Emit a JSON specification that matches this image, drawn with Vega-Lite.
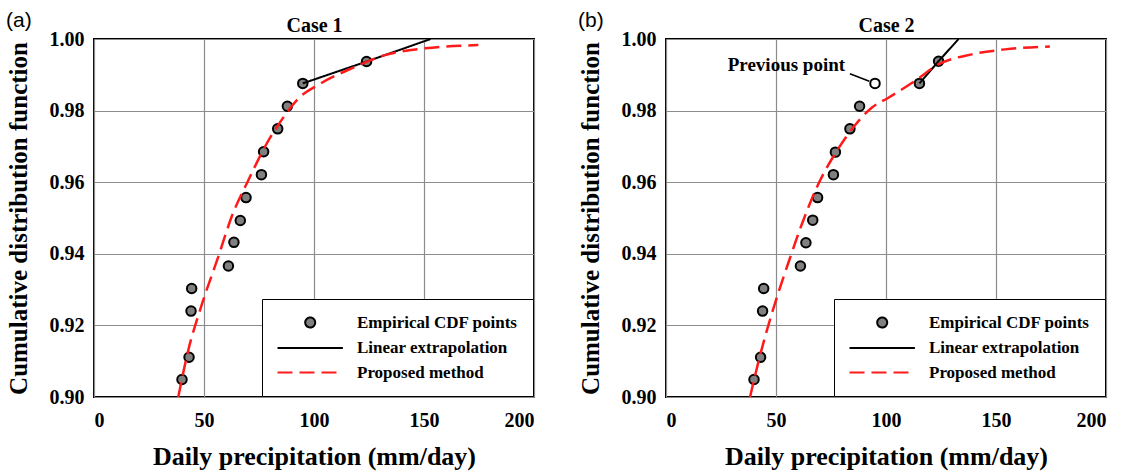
{
  "$schema": "https://vega.github.io/schema/vega-lite/v6.json",
  "background": "white",
  "padding": {"left": 5, "top": 9, "right": 5, "bottom": 5},
  "bounds": "flush",
  "spacing": 132,
  "datasets": {
    "points": [
      {"case": 1, "series": "Empirical CDF points", "x": 40.0, "y": 0.9049},
      {"case": 1, "series": "Empirical CDF points", "x": 43.2, "y": 0.9111},
      {"case": 1, "series": "Empirical CDF points", "x": 44.1, "y": 0.9240},
      {"case": 1, "series": "Empirical CDF points", "x": 44.4, "y": 0.9303},
      {"case": 1, "series": "Empirical CDF points", "x": 61.1, "y": 0.9366},
      {"case": 1, "series": "Empirical CDF points", "x": 63.6, "y": 0.9432},
      {"case": 1, "series": "Empirical CDF points", "x": 66.5, "y": 0.9493},
      {"case": 1, "series": "Empirical CDF points", "x": 69.1, "y": 0.9557},
      {"case": 1, "series": "Empirical CDF points", "x": 76.1, "y": 0.9621},
      {"case": 1, "series": "Empirical CDF points", "x": 77.1, "y": 0.9685},
      {"case": 1, "series": "Empirical CDF points", "x": 83.5, "y": 0.9749},
      {"case": 1, "series": "Empirical CDF points", "x": 87.9, "y": 0.9812},
      {"case": 1, "series": "Empirical CDF points", "x": 94.9, "y": 0.9876},
      {"case": 1, "series": "Empirical CDF points", "x": 123.9, "y": 0.9937},
      {"case": 2, "series": "Empirical CDF points", "x": 40.0, "y": 0.9049},
      {"case": 2, "series": "Empirical CDF points", "x": 43.0, "y": 0.9111},
      {"case": 2, "series": "Empirical CDF points", "x": 43.9, "y": 0.9240},
      {"case": 2, "series": "Empirical CDF points", "x": 44.4, "y": 0.9303},
      {"case": 2, "series": "Empirical CDF points", "x": 61.1, "y": 0.9366},
      {"case": 2, "series": "Empirical CDF points", "x": 63.6, "y": 0.9431},
      {"case": 2, "series": "Empirical CDF points", "x": 66.7, "y": 0.9494},
      {"case": 2, "series": "Empirical CDF points", "x": 68.9, "y": 0.9557},
      {"case": 2, "series": "Empirical CDF points", "x": 76.1, "y": 0.9621},
      {"case": 2, "series": "Empirical CDF points", "x": 77.0, "y": 0.9684},
      {"case": 2, "series": "Empirical CDF points", "x": 83.6, "y": 0.9749},
      {"case": 2, "series": "Empirical CDF points", "x": 88.0, "y": 0.9812},
      {"case": 2, "series": "Empirical CDF points", "x": 115.2, "y": 0.9876},
      {"case": 2, "series": "Empirical CDF points", "x": 123.9, "y": 0.9938}
    ],
    "previous": [
      {"case": 2, "label": "Previous point", "x": 95.0, "y": 0.9876, "tx": 81.4, "ty": 0.9927, "lx1": 83.6, "ly1": 0.9903, "lx2": 92.4, "ly2": 0.9882}
    ],
    "linear": [
      {"case": 1, "series": "Linear extrapolation", "x": 94.9, "y": 0.9876},
      {"case": 1, "series": "Linear extrapolation", "x": 123.9, "y": 0.9937},
      {"case": 1, "series": "Linear extrapolation", "x": 153.0, "y": 1.0},
      {"case": 2, "series": "Linear extrapolation", "x": 115.2, "y": 0.9876},
      {"case": 2, "series": "Linear extrapolation", "x": 123.9, "y": 0.9938},
      {"case": 2, "series": "Linear extrapolation", "x": 133.0, "y": 1.0}
    ],
    "proposed": [
      {"case": 1, "series": "Proposed method", "x": 38.3, "y": 0.9000},
      {"case": 1, "series": "Proposed method", "x": 42.9, "y": 0.9132},
      {"case": 1, "series": "Proposed method", "x": 48.2, "y": 0.9243},
      {"case": 1, "series": "Proposed method", "x": 56.5, "y": 0.9392},
      {"case": 1, "series": "Proposed method", "x": 62.6, "y": 0.9504},
      {"case": 1, "series": "Proposed method", "x": 70.2, "y": 0.9606},
      {"case": 1, "series": "Proposed method", "x": 77.7, "y": 0.9699},
      {"case": 1, "series": "Proposed method", "x": 85.3, "y": 0.9774},
      {"case": 1, "series": "Proposed method", "x": 92.9, "y": 0.9834},
      {"case": 1, "series": "Proposed method", "x": 102.0, "y": 0.9872},
      {"case": 1, "series": "Proposed method", "x": 117.1, "y": 0.9918},
      {"case": 1, "series": "Proposed method", "x": 132.3, "y": 0.9955},
      {"case": 1, "series": "Proposed method", "x": 150.5, "y": 0.9974},
      {"case": 1, "series": "Proposed method", "x": 174.7, "y": 0.9983},
      {"case": 2, "series": "Proposed method", "x": 38.2, "y": 0.9000},
      {"case": 2, "series": "Proposed method", "x": 42.7, "y": 0.9115},
      {"case": 2, "series": "Proposed method", "x": 48.0, "y": 0.9231},
      {"case": 2, "series": "Proposed method", "x": 56.4, "y": 0.9389},
      {"case": 2, "series": "Proposed method", "x": 61.7, "y": 0.9482},
      {"case": 2, "series": "Proposed method", "x": 69.2, "y": 0.9594},
      {"case": 2, "series": "Proposed method", "x": 77.6, "y": 0.9687},
      {"case": 2, "series": "Proposed method", "x": 85.9, "y": 0.9759},
      {"case": 2, "series": "Proposed method", "x": 93.5, "y": 0.9808},
      {"case": 2, "series": "Proposed method", "x": 101.1, "y": 0.9836},
      {"case": 2, "series": "Proposed method", "x": 113.2, "y": 0.9883},
      {"case": 2, "series": "Proposed method", "x": 123.8, "y": 0.9929},
      {"case": 2, "series": "Proposed method", "x": 139.0, "y": 0.9957},
      {"case": 2, "series": "Proposed method", "x": 154.1, "y": 0.9971},
      {"case": 2, "series": "Proposed method", "x": 174.5, "y": 0.9979}
    ]
  },
  "hconcat": [
    {
      "width": 440,
      "height": 358,
      "title": {"text": "(a)"},
      "layer": [
        {
          "data": {"name": "points"},
          "transform": [{"filter": "datum.case == 1"}],
          "mark": {"type": "point", "filled": true, "size": 90, "strokeWidth": 2, "opacity": 1},
          "encoding": {
            "x": {"field": "x", "type": "quantitative", "scale": {"domain": [0, 200]}, "axis": {"orient": "bottom", "title": "Daily precipitation (mm/day)", "values": [0, 50, 100, 150, 200]}},
            "y": {"field": "y", "type": "quantitative", "scale": {"domain": [0.9, 1.0]}, "axis": {"title": "Cumulative distribution function", "values": [0.9, 0.92, 0.94, 0.96, 0.98, 1.0], "format": ".2f"}},
            "fill": {"field": "series", "type": "nominal", "scale": {"domain": ["Empirical CDF points", "Linear extrapolation", "Proposed method"], "range": ["#808080", "transparent", "transparent"]}, "legend": {"title": null}},
            "stroke": {"field": "series", "type": "nominal", "scale": {"domain": ["Empirical CDF points", "Linear extrapolation", "Proposed method"], "range": ["black", "black", "#ff1a1a"]}, "legend": {"title": null}},
            "shape": {"field": "series", "type": "nominal", "scale": {"domain": ["Empirical CDF points", "Linear extrapolation", "Proposed method"], "range": ["circle", "M-6.54,0H6.54", "M-6.54,0H6.54"]}, "legend": {"title": null}}
          }
        },
        {
          "data": {"name": "linear"},
          "transform": [{"filter": "datum.case == 1"}],
          "mark": {"type": "line", "strokeWidth": 2},
          "encoding": {
            "x": {"field": "x", "type": "quantitative", "axis": null},
            "y": {"field": "y", "type": "quantitative"},
            "stroke": {"field": "series", "type": "nominal", "scale": {"domain": ["Empirical CDF points", "Linear extrapolation", "Proposed method"], "range": ["black", "black", "#ff1a1a"]}, "legend": {"title": null}},
            "strokeDash": {"field": "series", "type": "nominal", "scale": {"domain": ["Empirical CDF points", "Linear extrapolation", "Proposed method"], "range": [[1, 0], [1, 0], [15, 7]]}, "legend": {"title": null}}
          }
        },
        {
          "data": {"name": "proposed"},
          "transform": [{"filter": "datum.case == 1"}],
          "mark": {"type": "line", "strokeWidth": 2.5, "interpolate": "monotone"},
          "encoding": {
            "x": {"field": "x", "type": "quantitative", "axis": {"orient": "top", "title": "Case 1", "labels": false, "grid": false, "ticks": false, "domain": false, "titleFontSize": 20, "titlePadding": 4}},
            "y": {"field": "y", "type": "quantitative"},
            "stroke": {"field": "series", "type": "nominal", "scale": {"domain": ["Empirical CDF points", "Linear extrapolation", "Proposed method"], "range": ["black", "black", "#ff1a1a"]}, "legend": {"title": null}},
            "strokeDash": {"field": "series", "type": "nominal", "scale": {"domain": ["Empirical CDF points", "Linear extrapolation", "Proposed method"], "range": [[1, 0], [1, 0], [15, 7]]}, "legend": {"title": null}}
          }
        }
      ]
    },
    {
      "width": 440,
      "height": 358,
      "title": {"text": "(b)"},
      "layer": [
        {
          "data": {"name": "points"},
          "transform": [{"filter": "datum.case == 2"}],
          "mark": {"type": "point", "filled": true, "size": 90, "strokeWidth": 2, "opacity": 1},
          "encoding": {
            "x": {"field": "x", "type": "quantitative", "scale": {"domain": [0, 200]}, "axis": {"orient": "bottom", "title": "Daily precipitation (mm/day)", "values": [0, 50, 100, 150, 200]}},
            "y": {"field": "y", "type": "quantitative", "scale": {"domain": [0.9, 1.0]}, "axis": {"title": "Cumulative distribution function", "values": [0.9, 0.92, 0.94, 0.96, 0.98, 1.0], "format": ".2f"}},
            "fill": {"field": "series", "type": "nominal", "scale": {"domain": ["Empirical CDF points", "Linear extrapolation", "Proposed method"], "range": ["#808080", "transparent", "transparent"]}, "legend": {"title": null}},
            "stroke": {"field": "series", "type": "nominal", "scale": {"domain": ["Empirical CDF points", "Linear extrapolation", "Proposed method"], "range": ["black", "black", "#ff1a1a"]}, "legend": {"title": null}},
            "shape": {"field": "series", "type": "nominal", "scale": {"domain": ["Empirical CDF points", "Linear extrapolation", "Proposed method"], "range": ["circle", "M-6.54,0H6.54", "M-6.54,0H6.54"]}, "legend": {"title": null}}
          }
        },
        {
          "data": {"name": "previous"},
          "mark": {"type": "rule", "strokeWidth": 1.5, "color": "black"},
          "encoding": {
            "x": {"field": "lx1", "type": "quantitative", "axis": null},
            "y": {"field": "ly1", "type": "quantitative"},
            "x2": {"field": "lx2"},
            "y2": {"field": "ly2"}
          }
        },
        {
          "data": {"name": "previous"},
          "mark": {"type": "point", "filled": true, "size": 90, "strokeWidth": 2, "opacity": 1, "fill": "white", "stroke": "black"},
          "encoding": {
            "x": {"field": "x", "type": "quantitative", "axis": null},
            "y": {"field": "y", "type": "quantitative"}
          }
        },
        {
          "data": {"name": "previous"},
          "mark": {"type": "text", "align": "right", "baseline": "middle", "font": "Liberation Serif", "fontWeight": "bold", "fontSize": 19, "color": "black"},
          "encoding": {
            "x": {"field": "tx", "type": "quantitative", "axis": null},
            "y": {"field": "ty", "type": "quantitative"},
            "text": {"field": "label"}
          }
        },
        {
          "data": {"name": "linear"},
          "transform": [{"filter": "datum.case == 2"}],
          "mark": {"type": "line", "strokeWidth": 2},
          "encoding": {
            "x": {"field": "x", "type": "quantitative", "axis": null},
            "y": {"field": "y", "type": "quantitative"},
            "stroke": {"field": "series", "type": "nominal", "scale": {"domain": ["Empirical CDF points", "Linear extrapolation", "Proposed method"], "range": ["black", "black", "#ff1a1a"]}, "legend": {"title": null}},
            "strokeDash": {"field": "series", "type": "nominal", "scale": {"domain": ["Empirical CDF points", "Linear extrapolation", "Proposed method"], "range": [[1, 0], [1, 0], [15, 7]]}, "legend": {"title": null}}
          }
        },
        {
          "data": {"name": "proposed"},
          "transform": [{"filter": "datum.case == 2"}],
          "mark": {"type": "line", "strokeWidth": 2.5, "interpolate": "monotone"},
          "encoding": {
            "x": {"field": "x", "type": "quantitative", "axis": {"orient": "top", "title": "Case 2", "labels": false, "grid": false, "ticks": false, "domain": false, "titleFontSize": 20, "titlePadding": 4}},
            "y": {"field": "y", "type": "quantitative"},
            "stroke": {"field": "series", "type": "nominal", "scale": {"domain": ["Empirical CDF points", "Linear extrapolation", "Proposed method"], "range": ["black", "black", "#ff1a1a"]}, "legend": {"title": null}},
            "strokeDash": {"field": "series", "type": "nominal", "scale": {"domain": ["Empirical CDF points", "Linear extrapolation", "Proposed method"], "range": [[1, 0], [1, 0], [15, 7]]}, "legend": {"title": null}}
          }
        }
      ]
    }
  ],
  "resolve": {
    "scale": {"x": "independent", "y": "independent", "fill": "independent", "stroke": "independent", "shape": "independent", "strokeDash": "independent"},
    "legend": {"fill": "independent", "stroke": "independent", "shape": "independent", "strokeDash": "independent"}
  },
  "config": {
    "view": {"stroke": "black", "strokeWidth": 2},
    "title": {"anchor": "start", "frame": "bounds", "font": "Liberation Sans", "fontSize": 21, "fontWeight": "normal", "color": "black", "offset": -16},
    "axis": {
      "labelFont": "Liberation Serif", "labelFontSize": 20, "labelFontWeight": "bold", "labelColor": "black",
      "titleFont": "Liberation Serif", "titleFontWeight": "bold", "titleColor": "black",
      "gridColor": "#8c8c8c", "gridWidth": 1.2, "gridOpacity": 1,
      "ticks": false, "tickSize": 0, "domain": false, "labelPadding": 13
    },
    "axisX": {"titleFontSize": 26, "titlePadding": 13},
    "axisY": {"titleFont": "Liberation Sans Narrow", "titleFontSize": 25, "titlePadding": 18, "labelPadding": 10},
    "legend": {
      "orient": "bottom-right", "offset": 1, "padding": 15,
      "strokeColor": "black", "fillColor": "white",
      "labelFont": "Liberation Serif", "labelFontSize": 17, "labelFontWeight": "bold", "labelColor": "black", "labelLimit": 400,
      "symbolSize": 100, "symbolStrokeWidth": 2, "symbolOffset": 24.7, "labelOffset": 38.3, "rowPadding": 6.5
    }
  }
}
